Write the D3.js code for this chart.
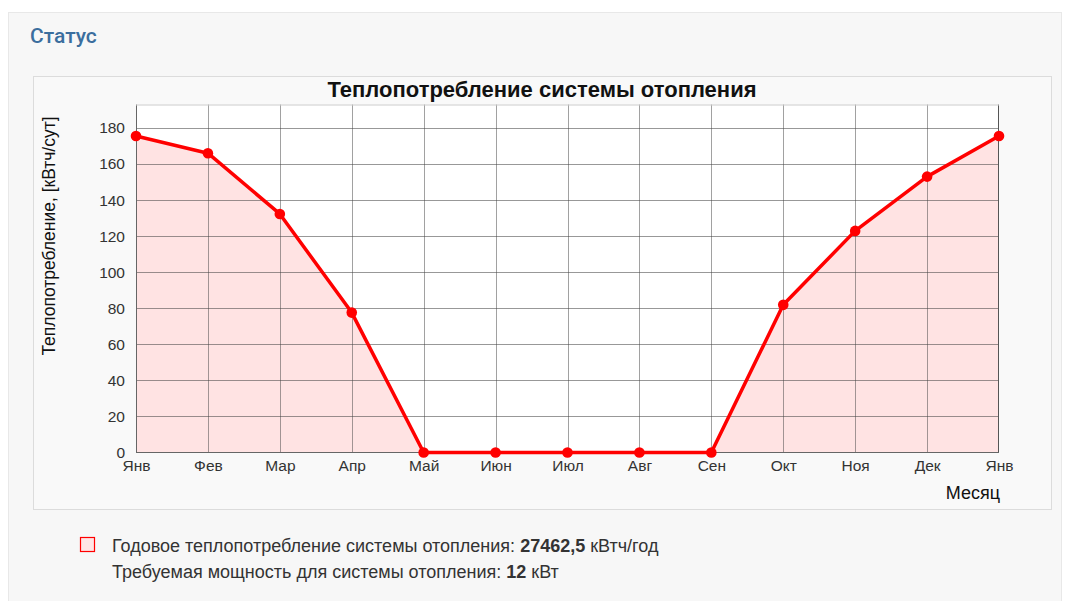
<!DOCTYPE html>
<html><head><meta charset="utf-8">
<script src="https://cdn.jsdelivr.net/npm/d3@7"></script>
<style>
body{margin:0;background:#fff;font-family:"Liberation Sans",Arial,sans-serif;}
svg{display:block;}
</style></head>
<body>
<svg id="c" width="1067" height="601"></svg>
<script>
const months = ["Янв","Фев","Мар","Апр","Май","Июн","Июл","Авг","Сен","Окт","Ноя","Дек","Янв"];
const heatValues = [175.5,166,132.3,77.6,0,0,0,0,0,81.9,122.9,153,175.5];
const yTicks = [0,20,40,60,80,100,120,140,160,180];
const yMax = 193;

const svg = d3.select("#c");
// outer panel
svg.append("rect").attr("x",8.5).attr("y",12.5).attr("width",1053).attr("height",600)
  .attr("fill","#f7f7f7").attr("stroke","#e8e8e8");
svg.append("text").attr("x",30).attr("y",43).text("Статус")
  .attr("font-family","Roboto, 'Liberation Sans', Arial").attr("font-weight",500)
  .attr("font-size",21).attr("fill","#3b6e9e");
// inner chart box
svg.append("rect").attr("x",33.5).attr("y",76.5).attr("width",1018).attr("height",433)
  .attr("fill","#f9f9f9").attr("stroke","#dcdcdc");

const x = d3.scaleLinear().domain([0,12]).range([136,999]);
const y = d3.scaleLinear().domain([0,yMax]).range([452.5,104.5]);

const g = svg.append("g");
g.append("rect").attr("x",x(0)).attr("y",y(yMax)).attr("width",x(12)-x(0)).attr("height",y(0)-y(yMax))
  .attr("fill","#fff");

// area
const idx = d3.range(months.length);
g.append("path").datum(idx)
  .attr("d",d3.area().x(i=>x(i)).y0(y(0)).y1(i=>y(heatValues[i])))
  .attr("fill","rgba(255,0,0,0.11)");

// grid
g.append("g").selectAll("line").data(yTicks.slice(1)).join("line")
  .attr("x1",x(0)).attr("x2",x(12)).attr("y1",d=>Math.round(y(d))+0.5).attr("y2",d=>Math.round(y(d))+0.5)
  .attr("stroke","#444").attr("stroke-opacity",0.55);
g.append("g").selectAll("line").data(idx.slice(1,12)).join("line")
  .attr("x1",d=>Math.round(x(d))+0.5).attr("x2",d=>Math.round(x(d))+0.5).attr("y1",y(yMax)).attr("y2",y(0))
  .attr("stroke","#444").attr("stroke-opacity",0.5);
// border lines
g.append("line").attr("x1",x(0)+0.5).attr("x2",x(0)+0.5).attr("y1",y(yMax)).attr("y2",y(0)).attr("stroke","#666");
g.append("line").attr("x1",x(12)-0.5).attr("x2",x(12)-0.5).attr("y1",y(yMax)).attr("y2",y(0)).attr("stroke","#555");
g.append("line").attr("x1",x(0)).attr("x2",x(12)).attr("y1",y(0)).attr("y2",y(0)).attr("stroke","#666");
g.append("line").attr("x1",x(0)).attr("x2",x(12)).attr("y1",y(yMax)+0.5).attr("y2",y(yMax)+0.5).attr("stroke","#ccc");

// axes
const yAxis = d3.axisLeft(y).tickValues(yTicks).tickSize(0).tickPadding(11);
const ya = svg.append("g").attr("transform",`translate(${x(0)},0)`).call(yAxis);
ya.select(".domain").remove();
ya.selectAll("text").attr("font-family","'Liberation Sans',Arial").attr("font-size",15.5).attr("fill","#333");

const xAxis = d3.axisBottom(x).tickValues(idx).tickFormat(i=>months[i]).tickSize(0).tickPadding(7);
const xa = svg.append("g").attr("transform",`translate(0,${y(0)})`).call(xAxis);
xa.select(".domain").remove();
xa.selectAll("text").attr("font-family","'Liberation Sans',Arial").attr("font-size",15.5).attr("fill","#333");

// line + markers
g.append("path").datum(idx)
  .attr("d",d3.line().x(i=>x(i)).y(i=>y(heatValues[i])))
  .attr("fill","none").attr("stroke","#ff0000").attr("stroke-width",3.5).attr("stroke-linejoin","round");
g.append("g").selectAll("circle").data(idx).join("circle")
  .attr("cx",i=>x(i)).attr("cy",i=>y(heatValues[i])).attr("r",5.3).attr("fill","#ff0000");

// titles
svg.append("text").attr("x",542).attr("y",97).attr("text-anchor","middle")
  .attr("font-weight","bold").attr("font-size",22).attr("fill","#111").text("Теплопотребление системы отопления");
svg.append("text").attr("transform","translate(55,236) rotate(-90)").attr("text-anchor","middle")
  .attr("font-size",17.5).attr("fill","#111").text("Теплопотребление, [кВтч/сут]");
svg.append("text").attr("x",1000).attr("y",499).attr("text-anchor","end")
  .attr("font-size",18).attr("fill","#111").text("Месяц");

// legend
svg.append("rect").attr("x",80.5).attr("y",537.5).attr("width",14).attr("height",14)
  .attr("fill","#ffe6e6").attr("stroke","#ff0000").attr("stroke-width",1.2);
const t1 = svg.append("text").attr("x",112).attr("y",552).attr("font-size",18).attr("fill","#333");
t1.append("tspan").text("Годовое теплопотребление системы отопления: ");
t1.append("tspan").attr("font-weight","bold").text("27462,5");
t1.append("tspan").text(" кВтч/год");
const t2 = svg.append("text").attr("x",112).attr("y",578).attr("font-size",18).attr("fill","#333");
t2.append("tspan").text("Требуемая мощность для системы отопления: ");
t2.append("tspan").attr("font-weight","bold").text("12");
t2.append("tspan").text(" кВт");
</script>
</body></html>
